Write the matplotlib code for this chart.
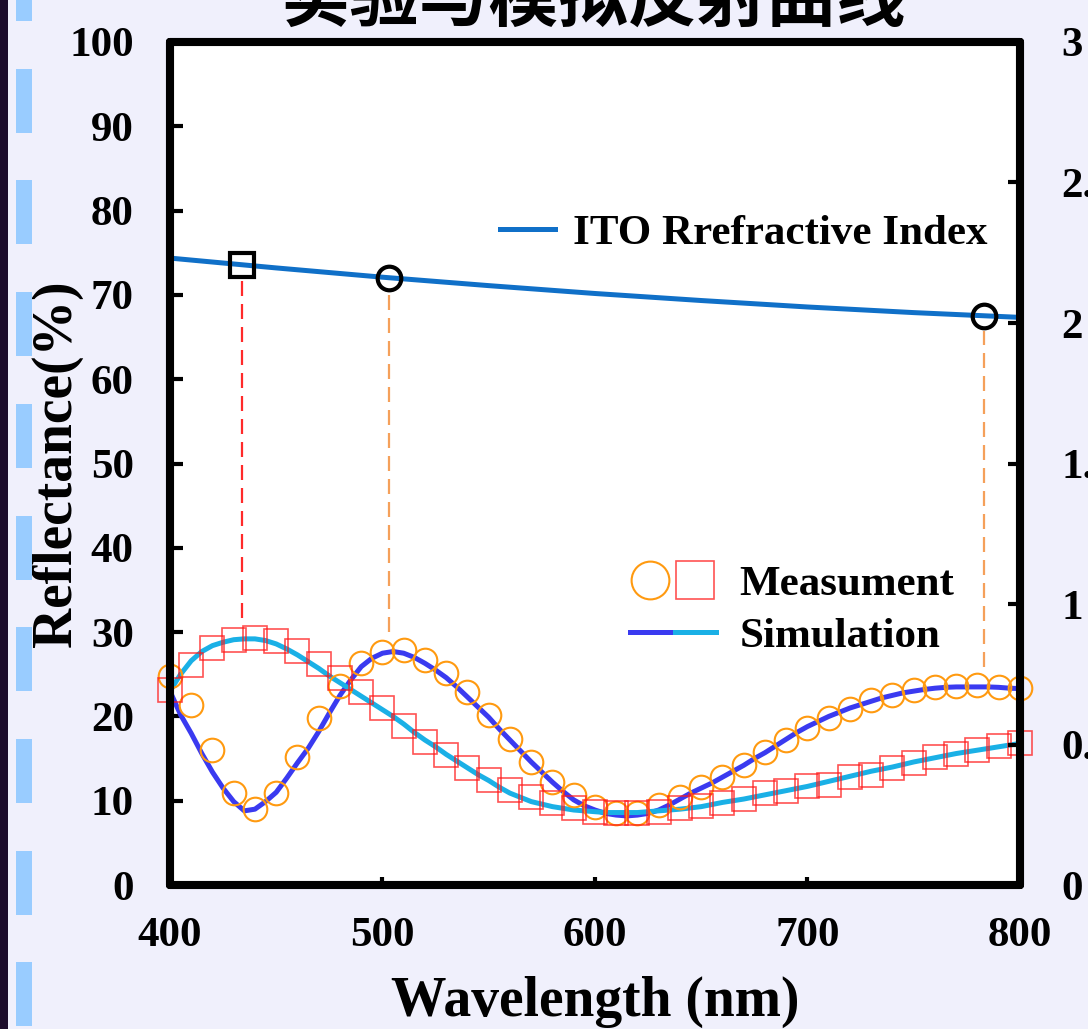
import numpy as np
import matplotlib
matplotlib.use("Agg")
import matplotlib.pyplot as plt
from matplotlib.patches import Rectangle
from matplotlib.legend_handler import HandlerTuple

plt.rcParams['font.family'] = ['Liberation Serif', 'Noto Sans CJK SC']
plt.rcParams['font.weight'] = 'bold'
plt.rcParams['axes.labelweight'] = 'bold'

# measured reflectance, 10 nm steps
wl_meas = np.arange(400, 801, 10)
meas_circ = [24.8, 21.4, 16.0, 10.9, 9.0, 10.9, 15.2, 19.8, 23.6, 26.3,
             27.7, 27.9, 26.7, 25.2, 22.9, 20.2, 17.3, 14.6, 12.2, 10.7,
             9.3, 8.5, 8.5, 9.5, 10.4, 11.6, 12.8, 14.2, 15.8, 17.2,
             18.6, 19.8, 20.9, 21.9, 22.5, 23.1, 23.5, 23.6, 23.7, 23.5, 23.4]
meas_sq = [23.1, 26.1, 28.1, 29.1, 29.3, 28.9, 27.8, 26.2, 24.6, 22.9,
           21.0, 18.9, 17.0, 15.4, 13.9, 12.5, 11.3, 10.4, 9.7, 9.1,
           8.7, 8.5, 8.5, 8.7, 9.1, 9.4, 9.7, 10.2, 10.9, 11.2,
           11.7, 11.9, 12.8, 13.0, 13.9, 14.5, 15.2, 15.5, 16.0, 16.5, 16.8]

# simulated reflectance, 5 nm steps
wl_sim = np.arange(400, 801, 5)
sim_blue = [23.0, 20.2, 18.0, 15.6, 13.4, 11.5, 9.9, 8.8, 9.0, 9.9,
            11.0, 12.7, 14.5, 16.2, 18.2, 20.4, 22.5, 24.3, 25.9, 26.9, 27.5,
            27.7, 27.5, 27.0, 26.3, 25.5, 24.6, 23.5, 22.3, 21.1, 19.9,
            18.5, 17.2, 15.9, 14.6, 13.4, 12.2, 11.1, 10.1, 9.4, 8.9,
            8.5, 8.3, 8.2, 8.3, 8.5, 8.9, 9.5, 10.2, 10.9, 11.5,
            12.1, 12.8, 13.5, 14.2, 15.0, 15.7, 16.5, 17.3, 18.1, 18.8,
            19.4, 20.0, 20.5, 21.0, 21.4, 21.8, 22.2, 22.5, 22.8, 23.0,
            23.2, 23.35, 23.45, 23.5, 23.5, 23.5, 23.5, 23.45, 23.35, 23.3]
sim_cyan = [23.0, 25.0, 26.6, 27.7, 28.4, 28.8, 29.1, 29.2, 29.2, 29.0,
            28.6, 28.0, 27.3, 26.5, 25.7, 24.8, 24.0, 23.2, 22.4, 21.6, 20.8,
            20.0, 19.1, 18.1, 17.2, 16.4, 15.5, 14.7, 13.9, 13.1, 12.4,
            11.6, 10.9, 10.4, 9.9, 9.6, 9.3, 9.1, 8.9, 8.8, 8.7,
            8.6, 8.6, 8.6, 8.6, 8.7, 8.8, 8.9, 9.0, 9.15, 9.3,
            9.55, 9.8, 10.0, 10.2, 10.45, 10.7, 10.95, 11.2, 11.45, 11.7,
            12.0, 12.3, 12.6, 12.9, 13.2, 13.5, 13.75, 14.0, 14.3, 14.6,
            14.85, 15.1, 15.35, 15.6, 15.8, 16.0, 16.2, 16.4, 16.6, 16.8]

# ITO refractive index (right axis)
wl_ito = [400, 450, 500, 550, 600, 650, 700, 750, 800]
n_ito = [2.231, 2.196, 2.163, 2.133, 2.105, 2.080, 2.057, 2.037, 2.020]

# wavelengths picked out on the index curve and where their guides stop
pick_wl = [434, 503, 783]
pick_marker = ['s', 'o', 'o']
guide_color = ['#ff2a2a', '#f5a05a', '#f5a05a']
guide_bottom = [31.7, 30.0, 25.9]

fig = plt.figure(figsize=(10.88, 10.29), dpi=100, facecolor='#f0f0fc')

# slide decoration down the left edge
fig.add_artist(Rectangle((0, 0), 8 / 1088, 1, transform=fig.transFigure,
                         color='#1c0c2c', lw=0))
for y0 in np.arange(-43, 1029, 111.7):
    fig.add_artist(Rectangle((16 / 1088, 1 - (y0 + 64) / 1029), 16 / 1088, 64 / 1029,
                             transform=fig.transFigure, color='#99ccff', lw=0))

fig.text(0.545, 1 - 36 / 1029, '实验与模拟反射曲线', fontsize=50,
         family=['Noto Sans CJK SC'], weight='bold', ha='center', va='bottom')

ax = fig.add_axes([0.1562, 0.1399, 0.7813, 0.8193])
ax.set_facecolor('white')
ax2 = ax.twinx()

l_blue, = ax.plot(wl_sim, sim_blue, color='#3a3af0', lw=3.6, zorder=2)
l_cyan, = ax.plot(wl_sim, sim_cyan, color='#1ab0e6', lw=3.6, zorder=2)
m_circ, = ax.plot(wl_meas, meas_circ, 'o', ms=17, mfc='none', mec='#ff9a10',
                  mew=1.5, zorder=3, clip_on=False)
m_sq, = ax.plot(wl_meas, meas_sq, 's', ms=17, mfc='none', mec='#ff1a1a',
                mew=1.2, alpha=0.75, zorder=3, clip_on=False)

l_ito, = ax2.plot(wl_ito, n_ito, color='#1070c8', lw=3.6, label='ITO Rrefractive Index')
for w, mk, c, yb in zip(pick_wl, pick_marker, guide_color, guide_bottom):
    n = np.interp(w, wl_ito, n_ito)
    ax2.plot([w], [n], mk, ms=17, mfc='none', mec='black', mew=3, zorder=4)
    ax.vlines(w, yb, n * 100 / 3 - 1.8, colors=c, lw=1.6,
              linestyles=(0, (6.75, 3.6)), zorder=1)

ax.set_xlim(400, 800)
ax.set_ylim(0, 100)
ax2.set_ylim(0, 3)
ax.set_xticks([400, 500, 600, 700, 800])
ax.set_yticks(np.arange(0, 101, 10))
ax2.set_yticks([0, 0.5, 1, 1.5, 2, 2.5, 3])
ax2.set_yticklabels(['0', '0.5', '1', '1.5', '2', '2.5', '3'])

for a in (ax, ax2):
    for s in a.spines.values():
        s.set_linewidth(5.8)
        s.set_capstyle('round')
        s.set_joinstyle('round')

ax.tick_params(axis='y', direction='in', length=9, width=3, labelsize=31, pad=26)
ax.tick_params(axis='x', direction='in', length=6, width=3, labelsize=31, pad=23)
ax2.tick_params(axis='y', direction='in', length=9, width=3, labelsize=31, pad=30)

ax.set_xlabel('Wavelength (nm)', fontsize=40, fontweight='bold')
ax.xaxis.set_label_coords(0.5, -0.108)
ax.set_ylabel('Reflectance(%)', fontsize=40, fontweight='bold')
ax.yaxis.label.set_va('center')
ax.yaxis.set_label_coords(-0.133, 0.5)

ax2.legend(handles=[l_ito], loc='center right', bbox_to_anchor=(0.962, 0.773),
           frameon=False, fontsize=31, handlelength=1.28, handletextpad=0.42,
           borderpad=0, borderaxespad=0)
ax.legend(handles=[(m_circ, m_sq), (l_blue, l_cyan)], labels=['Measument', 'Simulation'],
          handler_map={tuple: HandlerTuple(ndivide=None, pad=0.1)},
          loc='center left', bbox_to_anchor=(0.541, 0.326), frameon=False,
          fontsize=31, markerscale=1.6, handlelength=2.0, handletextpad=0.55,
          labelspacing=0.3, borderpad=0, borderaxespad=0)

fig.savefig('out.png', dpi=100, facecolor=fig.get_facecolor())
